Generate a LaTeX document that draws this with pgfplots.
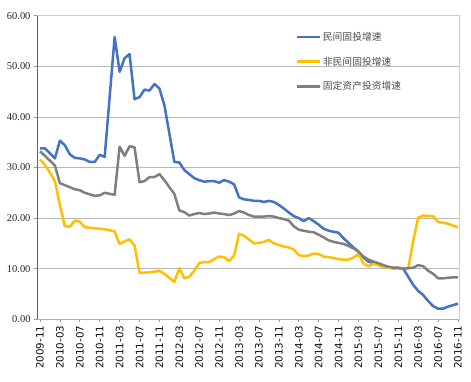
\documentclass[border=0pt]{standalone}
\usepackage{pgfplots}
\pgfplotsset{compat=1.18}
\usepackage{fontspec}
\setmainfont{Liberation Serif}
\newfontfamily\xfont{DejaVu Sans}
\newfontfamily\cjk{Noto Sans CJK SC}
\definecolor{sblue}{HTML}{4472C4}
\definecolor{syellow}{HTML}{FFC000}
\definecolor{sgray}{HTML}{7F7F7F}
\begin{document}
\begin{tikzpicture}
\begin{axis}[
  at={(0,0)}, anchor=south west,
  scale only axis, width=422bp, height=303.6bp,
  xmin=-0.6, xmax=84.2, ymin=0, ymax=60,
  ytick={0,10,...,60},
  xtick={0,4,...,84},
  xticklabels={2009-11,2010-03,2010-07,2010-11,2011-03,2011-07,2011-11,2012-03,2012-07,2012-11,2013-03,2013-07,2013-11,2014-03,2014-07,2014-11,2015-03,2015-07,2015-11,2016-03,2016-07,2016-11},
  /pgf/number format/assume math mode=true,
  yticklabel style={font=\fontsize{10.5}{12}\selectfont, text=black!85,
     /pgf/number format/fixed, /pgf/number format/fixed zerofill, /pgf/number format/precision=2},
  xticklabel style={rotate=90, anchor=east, font=\xfont\fontsize{10.3}{12}\selectfont, text=black!95},
  tick align=outside, ytick pos=left, xtick pos=bottom,
  major tick length=3bp,
  tick style={gray!80, line width=0.6bp},
  ymajorgrids, grid style={gray!55, line width=0.7bp},
  axis line style={gray!40, line width=0.7bp},
  legend style={draw=none, fill=none, at={(0.612,0.953)}, anchor=north west,
     inner xsep=0pt, inner ysep=0pt, row sep=11bp,
     font=\cjk\fontsize{9.8}{11}\selectfont, text=black!70},
  legend cell align=left,
  legend image code/.code={\draw[#1] (0bp,0bp) -- (23bp,0bp);},
  every axis plot/.append style={line width=2.5bp, line join=round, mark=none},
]
\addplot[sblue] coordinates {
(0,33.8)(1,33.8)(3,31.8)(4,35.3)(5,34.4)(6,32.6)(7,31.9)(8,31.8)(9,31.6)(10,31.1)(11,31.1)(12,32.5)(13,32.1)
(15,55.8)(16,48.9)(17,51.6)(18,52.4)(19,43.5)(20,43.9)(21,45.4)(22,45.2)(23,46.5)(24,45.6)(25,42.3)
(27,31.1)(28,31.0)(29,29.5)(30,28.7)(31,27.9)(32,27.5)(33,27.2)(34,27.3)(35,27.3)(36,27.0)(37,27.5)(38,27.2)(39,26.7)
(40,24.1)(41,23.7)(42,23.6)(43,23.4)(44,23.4)(45,23.2)(46,23.4)(47,23.2)(48,22.6)(49,21.9)(50,21.1)(51,20.4)
(52,20.0)(53,19.4)(54,20.0)(55,19.4)(56,18.7)(57,17.9)(58,17.5)(59,17.3)(60,17.1)(61,16.0)
(63,14.2)(64,13.4)(65,12.2)(66,11.4)(67,11.1)(68,10.7)(69,10.4)(70,10.3)(71,10.1)(72,10.1)(73,10.0)
(75,6.8)(76,5.6)(77,4.8)(78,3.6)(79,2.6)(80,2.1)(81,2.1)(82,2.5)(83,2.8)(84,3.1)
};
\addlegendentry{民间固投增速}
\addplot[syellow] coordinates {
(0,31.6)(1,30.5)(2,29.0)(3,27.3)(4,22.6)(5,18.4)(6,18.3)(7,19.5)(8,19.3)(9,18.2)(10,18.1)(11,18.0)(12,17.9)
(13,17.8)(14,17.6)(15,17.4)(16,14.9)(17,15.4)(18,15.8)(19,14.6)(20,9.2)(21,9.2)(22,9.3)(23,9.4)(24,9.6)
(25,9.0)(26,8.2)(27,7.4)(28,10.1)(29,8.1)(30,8.4)(31,9.6)(32,11.1)(33,11.3)(34,11.3)(35,11.9)(36,12.4)
(37,12.3)(38,11.5)(39,12.6)(40,16.9)(41,16.5)(42,15.8)(43,15.0)(44,15.1)(45,15.3)(46,15.7)(47,15.0)
(48,14.7)(49,14.4)(50,14.2)(51,13.8)(52,12.7)(53,12.5)(54,12.6)(55,13.0)(56,12.9)(57,12.4)(58,12.3)
(59,12.1)(60,11.9)(61,11.8)(62,11.8)(63,12.2)(64,12.9)(65,11.0)(66,10.5)(67,11.0)(68,10.7)(69,10.4)
(70,10.2)(71,10.0)(72,10.1)(73,10.1)(74,10.1)(75,15.5)(76,20.1)(77,20.5)(78,20.4)(79,20.4)(80,19.2)
(81,19.1)(82,18.9)(83,18.5)(84,18.2)
};
\addlegendentry{非民间固投增速}
\addplot[sgray] coordinates {
(0,33.2)(1,32.3)(3,30.4)(4,26.9)(5,26.5)(6,26.1)(7,25.7)(8,25.5)(9,25.0)(10,24.7)(11,24.4)(12,24.5)
(13,25.0)(14,24.8)(15,24.6)(16,34.1)(17,32.3)(18,34.2)(19,34.0)(20,27.1)(21,27.3)(22,28.1)(23,28.1)
(24,28.7)(25,27.5)(26,26.1)(27,24.8)(28,21.5)(29,21.2)(30,20.5)(31,20.8)(32,21.0)(33,20.8)(34,20.9)
(35,21.1)(36,20.9)(37,20.8)(38,20.6)(39,20.9)(40,21.4)(41,21.1)(42,20.6)(43,20.3)(44,20.3)(45,20.3)
(46,20.4)(47,20.3)(48,20.0)(49,19.8)(50,19.5)(51,18.4)(52,17.7)(53,17.5)(54,17.3)(55,17.2)(56,16.7)
(57,16.2)(58,15.6)(59,15.3)(60,15.1)(61,14.9)(62,14.5)(63,14.0)(64,13.4)(65,12.4)(66,11.8)(67,11.4)
(68,11.1)(69,10.7)(70,10.4)(71,10.2)(72,10.2)(73,10.0)(75,10.2)(76,10.7)(77,10.5)(78,9.6)(79,9.0)
(80,8.1)(81,8.1)(82,8.2)(83,8.3)(84,8.3)
};
\addlegendentry{固定资产投资增速}
\draw[gray!75!black, line width=0.8bp] (rel axis cs:0,0) -- (rel axis cs:0,1);
\draw[gray!60, line width=0.8bp] (rel axis cs:0,0) -- (rel axis cs:1,0);
\end{axis}
\pgfresetboundingbox
\useasboundingbox (-37bp,-62.7bp) rectangle (434bp,319.3bp);
\end{tikzpicture}
\end{document}
